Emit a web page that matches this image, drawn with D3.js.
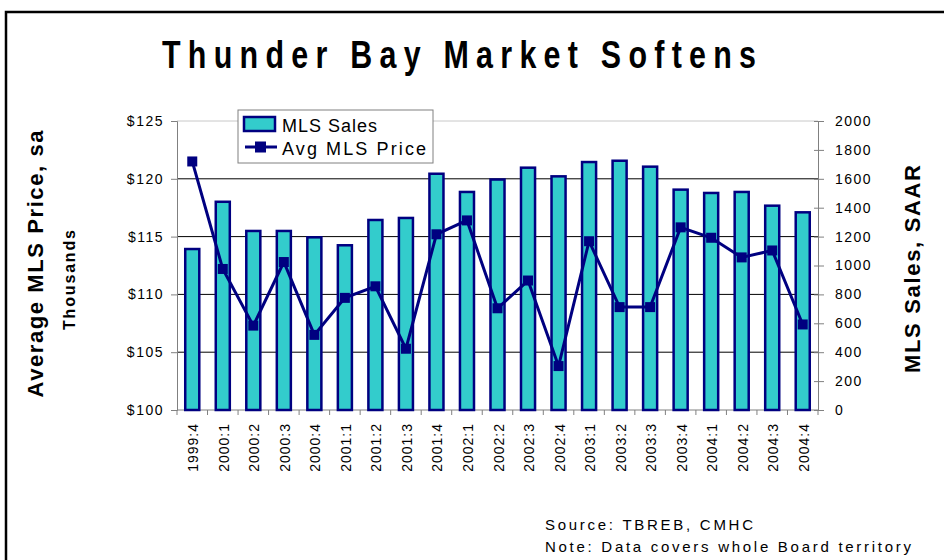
<!DOCTYPE html>
<html>
<head>
<meta charset="utf-8">
<script src="https://cdn.jsdelivr.net/npm/d3@7"></script>
<style>
  body { margin: 0; background: #fff; }
  svg text { font-family: "Liberation Sans", Arial, sans-serif; fill: #000; }
</style>
</head>
<body>
<svg id="chart" width="944" height="560"></svg>
<script>
// data
var quarters = ["1999:4","2000:1","2000:2","2000:3","2000:4","2001:1","2001:2","2001:3","2001:4",
  "2002:1","2002:2","2002:3","2002:4","2003:1","2003:2","2003:3","2003:4","2004:1","2004:2","2004:3","2004:4"];
var mlsSales = [1114,1441,1239,1239,1195,1140,1315,1329,1635,1509,1595,1677,1617,1716,1725,1684,1525,1502,1509,1414,1368];
var avgPrice = [121.5,112.2,107.3,112.8,106.5,109.7,110.7,105.3,115.2,116.4,108.8,111.2,103.8,114.6,108.9,108.9,115.8,114.9,113.2,113.8,107.4];
var priceTicks = [100,105,110,115,120,125];
var salesTicks = [0,200,400,600,800,1000,1200,1400,1600,1800,2000];

var svg = d3.select("#chart");
var plotLeft = 177, plotRight = 818, plotTop = 121, plotBottom = 410;
var navy = "#000080", teal = "#33CCCC";

// outer frame (right and bottom edges run off the page)
svg.append("rect").attr("x", 6).attr("y", 12).attr("width", 950).attr("height", 560)
  .attr("fill", "none").attr("stroke", "#000").attr("stroke-width", 2.5);

var x = d3.scaleBand().domain(quarters).range([plotLeft, plotRight]).paddingInner(0.54).paddingOuter(0.27);
var yL = d3.scaleLinear().domain([100, 125]).range([plotBottom, plotTop]);
var yR = d3.scaleLinear().domain([0, 2000]).range([plotBottom, plotTop]);

// gridlines
svg.append("g").selectAll("line").data(priceTicks.slice(1, -1)).enter().append("line")
  .attr("x1", plotLeft).attr("x2", plotRight)
  .attr("y1", function(d){ return yL(d); }).attr("y2", function(d){ return yL(d); })
  .attr("stroke", "#000").attr("stroke-width", 1);
svg.append("line").attr("x1", plotLeft).attr("x2", plotRight).attr("y1", plotTop).attr("y2", plotTop)
  .attr("stroke", "#c8c8c8");

// left axis
var gL = svg.append("g").attr("transform", "translate(" + plotLeft + ",0)")
  .call(d3.axisLeft(yL).tickValues(priceTicks).tickFormat(function(d){ return "$" + d; }).tickSizeOuter(0).tickSize(6).tickPadding(7));
gL.select(".domain").attr("stroke", "#808080");
gL.selectAll(".tick line").attr("stroke", "#808080");
gL.selectAll("text").style("font-size", "14px").style("letter-spacing", "1.5px").attr("fill", "#000");

// right axis
var gR = svg.append("g").attr("transform", "translate(" + plotRight + ",0)")
  .call(d3.axisRight(yR).tickValues(salesTicks).tickFormat(d3.format("d")).tickSizeOuter(0).tickSize(6).tickPadding(11));
gR.select(".domain").attr("stroke", "#808080");
gR.selectAll(".tick line").attr("stroke", "#808080").attr("x1", -4);
gR.selectAll("text").style("font-size", "14px").style("letter-spacing", "1.5px").attr("fill", "#000");

// bottom axis: ticks at category boundaries
var step = x.step();
var bounds = d3.range(quarters.length + 1).map(function(i){ return plotLeft + i * step; });
svg.append("line").attr("x1", plotLeft).attr("x2", plotRight).attr("y1", plotBottom).attr("y2", plotBottom).attr("stroke", "#808080");
svg.append("g").selectAll("line").data(bounds).enter().append("line")
  .attr("x1", function(d){ return d; }).attr("x2", function(d){ return d; })
  .attr("y1", plotBottom).attr("y2", plotBottom + 5).attr("stroke", "#808080");
svg.append("g").selectAll("text").data(quarters).enter().append("text")
  .attr("transform", function(d){ return "translate(" + (x(d) + x.bandwidth() / 2 + 6) + "," + (plotBottom + 13) + ") rotate(-90)"; })
  .attr("text-anchor", "end").style("font-size", "14px").style("letter-spacing", "1px")
  .text(function(d){ return d; });

// bars
svg.append("g").selectAll("rect").data(mlsSales).enter().append("rect")
  .attr("x", function(d, i){ return x(quarters[i]); })
  .attr("y", function(d){ return yR(d); })
  .attr("width", x.bandwidth())
  .attr("height", function(d){ return plotBottom - yR(d); })
  .attr("fill", teal).attr("stroke", navy).attr("stroke-width", 2.5);

// price line
var line = d3.line()
  .x(function(d, i){ return x(quarters[i]) + x.bandwidth() / 2; })
  .y(function(d){ return yL(d); });
svg.append("path").datum(avgPrice).attr("d", line)
  .attr("fill", "none").attr("stroke", navy).attr("stroke-width", 3);
svg.append("g").selectAll("rect").data(avgPrice).enter().append("rect")
  .attr("x", function(d, i){ return x(quarters[i]) + x.bandwidth() / 2 - 5; })
  .attr("y", function(d){ return yL(d) - 5; })
  .attr("width", 10).attr("height", 10).attr("fill", navy);

// legend
var lg = svg.append("g").attr("transform", "translate(238,110)");
lg.append("rect").attr("width", 195).attr("height", 53).attr("fill", "#fff").attr("stroke", "#808080");
lg.append("rect").attr("x", 6).attr("y", 7).attr("width", 31).attr("height", 14)
  .attr("fill", teal).attr("stroke", navy).attr("stroke-width", 2.5);
lg.append("text").attr("x", 44).attr("y", 22).style("font-size", "18px")
  .attr("textLength", 95).attr("lengthAdjust", "spacing").text("MLS Sales");
lg.append("line").attr("x1", 7).attr("x2", 39).attr("y1", 37).attr("y2", 37).attr("stroke", navy).attr("stroke-width", 3);
lg.append("rect").attr("x", 17).attr("y", 31.5).attr("width", 11).attr("height", 11).attr("fill", navy);
lg.append("text").attr("x", 44).attr("y", 45).style("font-size", "18px")
  .attr("textLength", 144).attr("lengthAdjust", "spacing").text("Avg MLS Price");

// titles
svg.append("text").attr("transform", "translate(459,68) scale(0.8,1)").attr("text-anchor", "middle")
  .style("font-size", "38px").style("font-weight", "bold")
  .attr("textLength", 594 / 0.8).attr("lengthAdjust", "spacing")
  .text("Thunder Bay Market Softens");
svg.append("text").attr("transform", "translate(43,264) rotate(-90)").attr("text-anchor", "middle")
  .style("font-size", "22px").style("font-weight", "bold")
  .attr("textLength", 267).attr("lengthAdjust", "spacing")
  .text("Average MLS Price, sa");
svg.append("text").attr("transform", "translate(75,280) rotate(-90)").attr("text-anchor", "middle")
  .style("font-size", "16px").style("font-weight", "bold")
  .attr("textLength", 100).attr("lengthAdjust", "spacing")
  .text("Thousands");
svg.append("text").attr("transform", "translate(920,269) rotate(-90)").attr("text-anchor", "middle")
  .style("font-size", "22px").style("font-weight", "bold")
  .attr("textLength", 208).attr("lengthAdjust", "spacing")
  .text("MLS Sales, SAAR");

// notes
svg.append("text").attr("x", 545).attr("y", 530).style("font-size", "15px")
  .attr("textLength", 208).attr("lengthAdjust", "spacing").attr("fill", "#222")
  .text("Source: TBREB, CMHC");
svg.append("text").attr("x", 545).attr("y", 552).style("font-size", "15px")
  .attr("textLength", 366).attr("lengthAdjust", "spacing").attr("fill", "#222")
  .text("Note: Data covers whole Board territory");
</script>
</body>
</html>
